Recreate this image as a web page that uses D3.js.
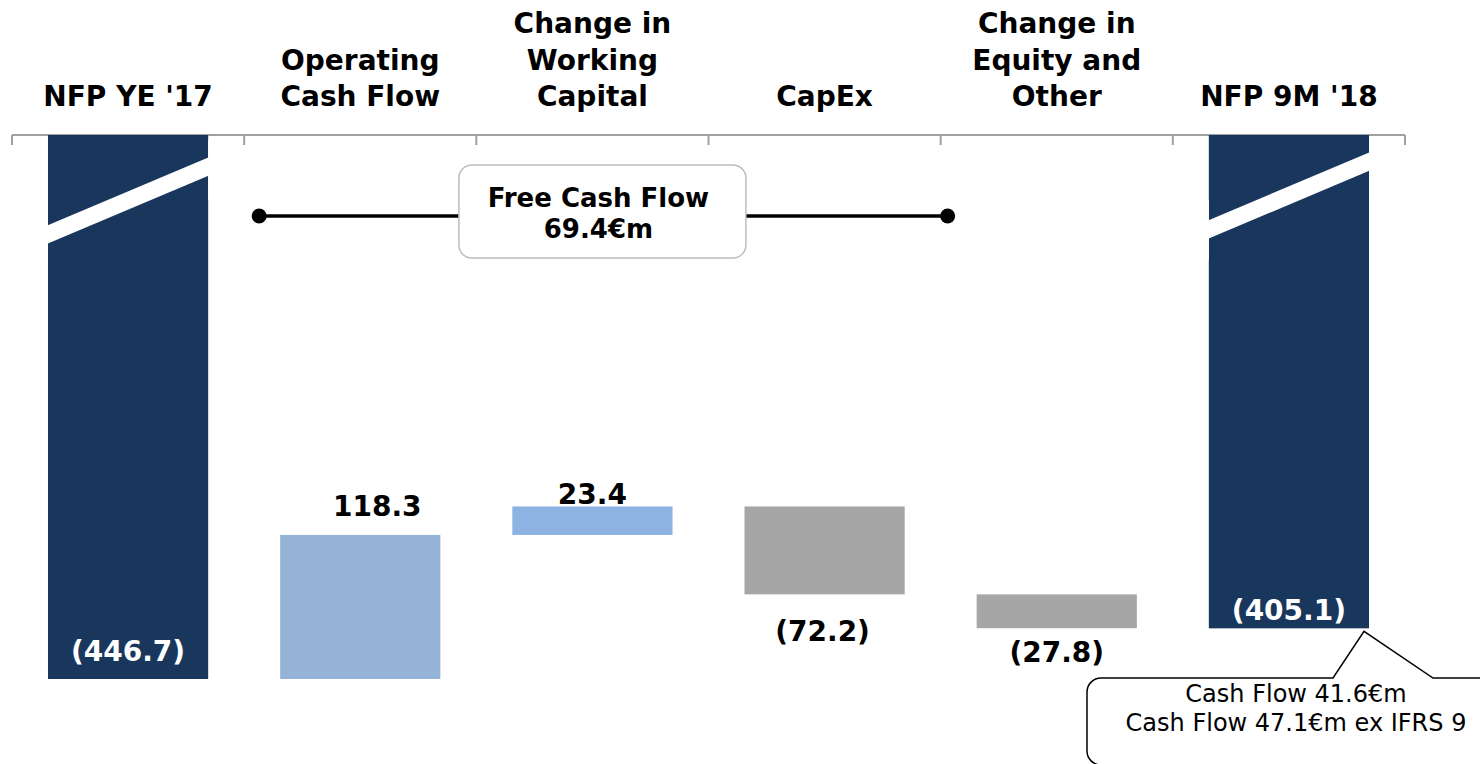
<!DOCTYPE html>
<html>
<head>
<meta charset="utf-8">
<script src="https://cdn.jsdelivr.net/npm/d3@7"></script>
<style>
  body { margin: 0; background: #fff; }
  text { font-family: "DejaVu Sans", Verdana, sans-serif; }
</style>
</head>
<body>
<div id="chart"></div>
<script>
let width = 1480,
    height = 764;

// data
const categories = [["NFP YE '17"], ["Operating", "Cash Flow"], ["Change in", "Working", "Capital"],
                    ["CapEx"], ["Change in", "Equity and", "Other"], ["NFP 9M '18"]];
const values = [-446.7, 118.3, 23.4, -72.2, -27.8, -405.1];
const kinds = ["total", "up", "up", "down", "down", "total"];
const labels = ["(446.7)", "118.3", "23.4", "(72.2)", "(27.8)", "(405.1)"];
const fcfLines = ["Free Cash Flow", "69.4€m"];
const noteLines = ["Cash Flow 41.6€m", "Cash Flow 47.1€m ex IFRS 9"];

// manual label nudges (as placed in the original slide)
const labelDx = [0, 17, 0, -2, 0, 0];
const labelDy = [-28, -29, -13, 37, 24, -18];

const colors = { total: "#19375d", up: "#95b3d7", down: "#a6a6a6" };
const upColors = ["#95b3d7", "#8db3e2"];

const svg = d3.select("#chart").append("svg")
    .attr("width", width)
    .attr("height", height);

// running levels
let level = 0;
const bars = values.map(function (v, i) {
  let y0, y1;
  if (kinds[i] === "total") {
    y0 = 0; y1 = v; level = v;
  } else {
    y0 = level; y1 = level + v; level = y1;
  }
  return { i: i, y0: y0, y1: y1, kind: kinds[i] };
});

const x = d3.scaleBand()
    .domain(d3.range(categories.length))
    .range([12, 1405])
    .paddingInner(0.31)
    .paddingOuter(0.155);

const y = d3.scaleLinear()
    .domain([0, d3.min(values)])
    .range([135, 679]);

// axis on top
const axisY = 135;
svg.append("line")
    .attr("x1", 12).attr("x2", 1405)
    .attr("y1", axisY).attr("y2", axisY)
    .attr("stroke", "#a0a0a0").attr("stroke-width", 2);
const step = x.step();
svg.selectAll(".tick")
    .data(d3.range(categories.length + 1))
    .enter().append("line")
    .attr("x1", function (d) { return 12 + d * step; })
    .attr("x2", function (d) { return 12 + d * step; })
    .attr("y1", axisY).attr("y2", axisY + 10)
    .attr("stroke", "#a0a0a0").attr("stroke-width", 2);

// bars
svg.selectAll(".bar")
    .data(bars)
    .enter().append("rect")
    .attr("x", function (d) { return x(d.i); })
    .attr("width", x.bandwidth())
    .attr("y", function (d) { return Math.min(y(d.y0), y(d.y1)); })
    .attr("height", function (d) { return Math.abs(y(d.y1) - y(d.y0)); })
    .attr("fill", function (d) {
      if (d.kind === "up") return upColors[d.i - 1] || colors.up;
      return colors[d.kind];
    });

// axis break marks on totals
const bw = x.bandwidth();
[0, 5].forEach(function (i, k) {
  const left = x(i);
  const yl = k === 0 ? 234 : 229;
  const yr = k === 0 ? 167 : 162;
  svg.append("line")
      .attr("x1", left - 4).attr("y1", yl + 2)
      .attr("x2", left + bw + 4).attr("y2", yr - 2)
      .attr("stroke", "#fff").attr("stroke-width", 17);
  svg.append("rect").attr("x", left + bw).attr("y", 140).attr("width", 20).attr("height", 60).attr("fill", "#fff");
  svg.append("rect").attr("x", left - 20).attr("y", 200).attr("width", 20).attr("height", 60).attr("fill", "#fff");
});

// category labels
const lineH = 36.5;
categories.forEach(function (lines, i) {
  const t = svg.append("text")
      .attr("x", x(i) + bw / 2)
      .attr("text-anchor", "middle")
      .attr("font-size", 28)
      .attr("font-weight", "bold")
      .attr("fill", "#000");
  lines.forEach(function (l, j) {
    t.append("tspan")
        .attr("x", x(i) + bw / 2)
        .attr("y", 106 - (lines.length - 1 - j) * lineH)
        .text(l);
  });
});

// value labels
bars.forEach(function (d) {
  svg.append("text")
      .attr("x", x(d.i) + bw / 2 + labelDx[d.i])
      .attr("y", y(d.y1) + labelDy[d.i])
      .attr("dy", "0.36em")
      .attr("text-anchor", "middle")
      .attr("font-size", 28)
      .attr("font-weight", "bold")
      .attr("fill", d.kind === "total" ? "#fff" : "#000")
      .text(labels[d.i]);
});

// free cash flow bracket
const fx1 = x(1) - 21, fx2 = x(4) - 29, fy = 216;
svg.append("line")
    .attr("x1", fx1).attr("x2", fx2)
    .attr("y1", fy).attr("y2", fy)
    .attr("stroke", "#000").attr("stroke-width", 3.5);
svg.selectAll(".dot")
    .data([fx1, fx2])
    .enter().append("circle")
    .attr("cx", function (d) { return d; })
    .attr("cy", fy)
    .attr("r", 7.5)
    .attr("fill", "#000");
const boxCx = x(2) + bw / 2 + 10;
svg.append("rect")
    .attr("x", boxCx - 143.5).attr("y", 165)
    .attr("width", 287).attr("height", 93)
    .attr("rx", 13)
    .attr("fill", "#fff")
    .attr("stroke", "#bdbdbd").attr("stroke-width", 1.5);
fcfLines.forEach(function (l, j) {
  svg.append("text")
      .attr("x", boxCx - 4)
      .attr("y", 198 + j * 31)
      .attr("dy", "0.36em")
      .attr("text-anchor", "middle")
      .attr("font-size", 26)
      .attr("font-weight", "bold")
      .text(l);
});

// callout note
const tipX = x(5) + bw - 5, tipY = y(values[5]) + 3;
const noteTop = 678, noteLeft = 1087, r = 14, noteBottom = 765;
const path = d3.path();
path.moveTo(noteLeft + r, noteTop);
path.lineTo(tipX - 31, noteTop);
path.lineTo(tipX, tipY);
path.lineTo(tipX + 69, noteTop);
path.lineTo(width + 10, noteTop);
path.moveTo(noteLeft + r, noteTop);
path.arcTo(noteLeft, noteTop, noteLeft, noteTop + r, r);
path.lineTo(noteLeft, noteBottom - r);
path.arcTo(noteLeft, noteBottom, noteLeft + r, noteBottom, r);
path.lineTo(width + 10, noteBottom);
svg.append("path")
    .attr("d", path.toString())
    .attr("fill", "none")
    .attr("stroke", "#000").attr("stroke-width", 1.5);
noteLines.forEach(function (l, j) {
  svg.append("text")
      .attr("x", 1296)
      .attr("y", 693 + j * 29)
      .attr("dy", "0.36em")
      .attr("text-anchor", "middle")
      .attr("font-size", 24)
      .text(l);
});
</script>
</body>
</html>
